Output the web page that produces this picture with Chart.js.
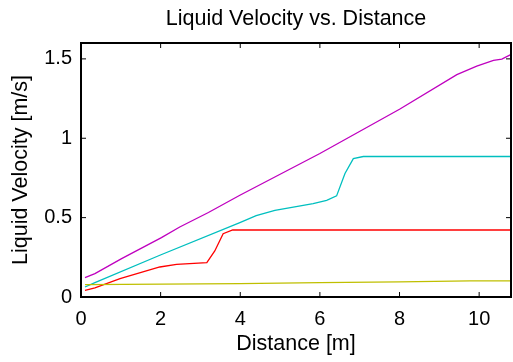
<!DOCTYPE html>
<html>
<head>
<meta charset="utf-8">
<script src="https://cdn.jsdelivr.net/npm/chart.js@4/dist/chart.umd.min.js"></script>
<style>
  body { margin: 0; background: #fff; }
</style>
</head>
<body>
<canvas id="myChart" width="513" height="362"></canvas>
<script>
// values
const xTicks = [0, 2, 4, 6, 8, 10];
const yTicks = [0, 0.5, 1, 1.5];

const magentaX = [0.1, 0.35, 1.02, 2.02, 2.48, 3.2, 3.99, 6.0, 8.0, 9.44, 9.94, 10.36, 10.57, 10.78];
const magentaY = [0.122, 0.147, 0.242, 0.374, 0.441, 0.532, 0.641, 0.904, 1.183, 1.401, 1.454, 1.491, 1.498, 1.525];

const cyanX = [0.1, 0.35, 1.98, 3.99, 4.4, 4.87, 5.83, 6.17, 6.42, 6.63, 6.84, 7.09, 10.78];
const cyanY = [0.063, 0.091, 0.263, 0.469, 0.513, 0.546, 0.588, 0.609, 0.637, 0.778, 0.872, 0.885, 0.885];

const redX = [0.1, 0.35, 0.98, 1.98, 2.4, 3.16, 3.36, 3.57, 3.81, 10.78];
const redY = [0.042, 0.057, 0.116, 0.189, 0.206, 0.217, 0.290, 0.399, 0.422, 0.422];

const yellowX = [0.1, 3.99, 6.0, 8.0, 9.77, 10.78];
const yellowY = [0.078, 0.084, 0.091, 0.095, 0.101, 0.101];

const titleText = 'Liquid Velocity vs. Distance';

function pts(xs, ys) {
  return xs.map((v, i) => ({x: v, y: ys[i]}));
}

const font = "'Liberation Sans', Arial, Helvetica, sans-serif";

// box round the plot, ticks pointing in, title centred over the plot area
const frame = {
  id: 'frame',
  afterDatasetsDraw(chart) {
    const {ctx, chartArea: a, scales: {x, y}} = chart;
    ctx.save();
    ctx.strokeStyle = '#000';
    ctx.lineWidth = 1;
    ctx.beginPath();
    xTicks.forEach(v => {
      const px = x.getPixelForValue(v);
      ctx.moveTo(px, a.bottom); ctx.lineTo(px, a.bottom - 5);
      ctx.moveTo(px, a.top); ctx.lineTo(px, a.top + 5);
    });
    yTicks.forEach(v => {
      const py = y.getPixelForValue(v);
      ctx.moveTo(a.left, py); ctx.lineTo(a.left + 5, py);
      ctx.moveTo(a.right, py); ctx.lineTo(a.right - 5, py);
    });
    ctx.stroke();
    ctx.lineWidth = 2;
    ctx.strokeRect(a.left, a.top, a.right - a.left, a.bottom - a.top);

    ctx.fillStyle = '#000';
    ctx.font = '21.5px ' + font;
    ctx.textAlign = 'center';
    ctx.textBaseline = 'middle';
    ctx.fillText(titleText, (a.left + a.right) / 2, 19);
    ctx.restore();
  }
};

const ctx = document.getElementById('myChart').getContext('2d');
const myChart = new Chart(ctx, {
  type: 'line',
  data: {
    datasets: [
      {data: pts(yellowX, yellowY), borderColor: '#bfbf00'},
      {data: pts(magentaX, magentaY), borderColor: '#bf00bf'},
      {data: pts(cyanX, cyanY), borderColor: '#00bfbf'},
      {data: pts(redX, redY), borderColor: '#ff0000'}
    ]
  },
  options: {
    responsive: false,
    animation: false,
    devicePixelRatio: 1,
    parsing: false,
    elements: {
      point: {radius: 0},
      line: {borderWidth: 1.3, tension: 0}
    },
    layout: {padding: {left: 0, right: 2, top: 43, bottom: 0}},
    plugins: {
      legend: {display: false},
      tooltip: {enabled: false},
      title: {display: false}
    },
    scales: {
      x: {
        type: 'linear',
        min: 0,
        max: 10.8,
        afterFit: s => { s.height = 65; },
        afterBuildTicks: s => { s.ticks = xTicks.map(v => ({value: v})); },
        grid: {display: false, drawTicks: false},
        border: {display: false},
        ticks: {color: '#000', padding: 10, maxRotation: 0, font: {family: font, size: 20}},
        title: {display: true, text: 'Distance [m]', color: '#000', padding: {top: 0, bottom: 5}, font: {family: font, size: 21.5, lineHeight: 1.2}}
      },
      y: {
        min: 0,
        max: 1.6,
        afterFit: s => { s.width = 81; },
        afterBuildTicks: s => { s.ticks = yTicks.map(v => ({value: v})); },
        grid: {display: false, drawTicks: false},
        border: {display: false},
        ticks: {color: '#000', padding: 9, callback: v => String(v), font: {family: font, size: 20}},
        title: {display: true, text: 'Liquid Velocity [m/s]', color: '#000', padding: {top: 8, bottom: 0}, font: {family: font, size: 21.5, lineHeight: 1.2}}
      }
    }
  },
  plugins: [frame]
});
</script>
</body>
</html>
